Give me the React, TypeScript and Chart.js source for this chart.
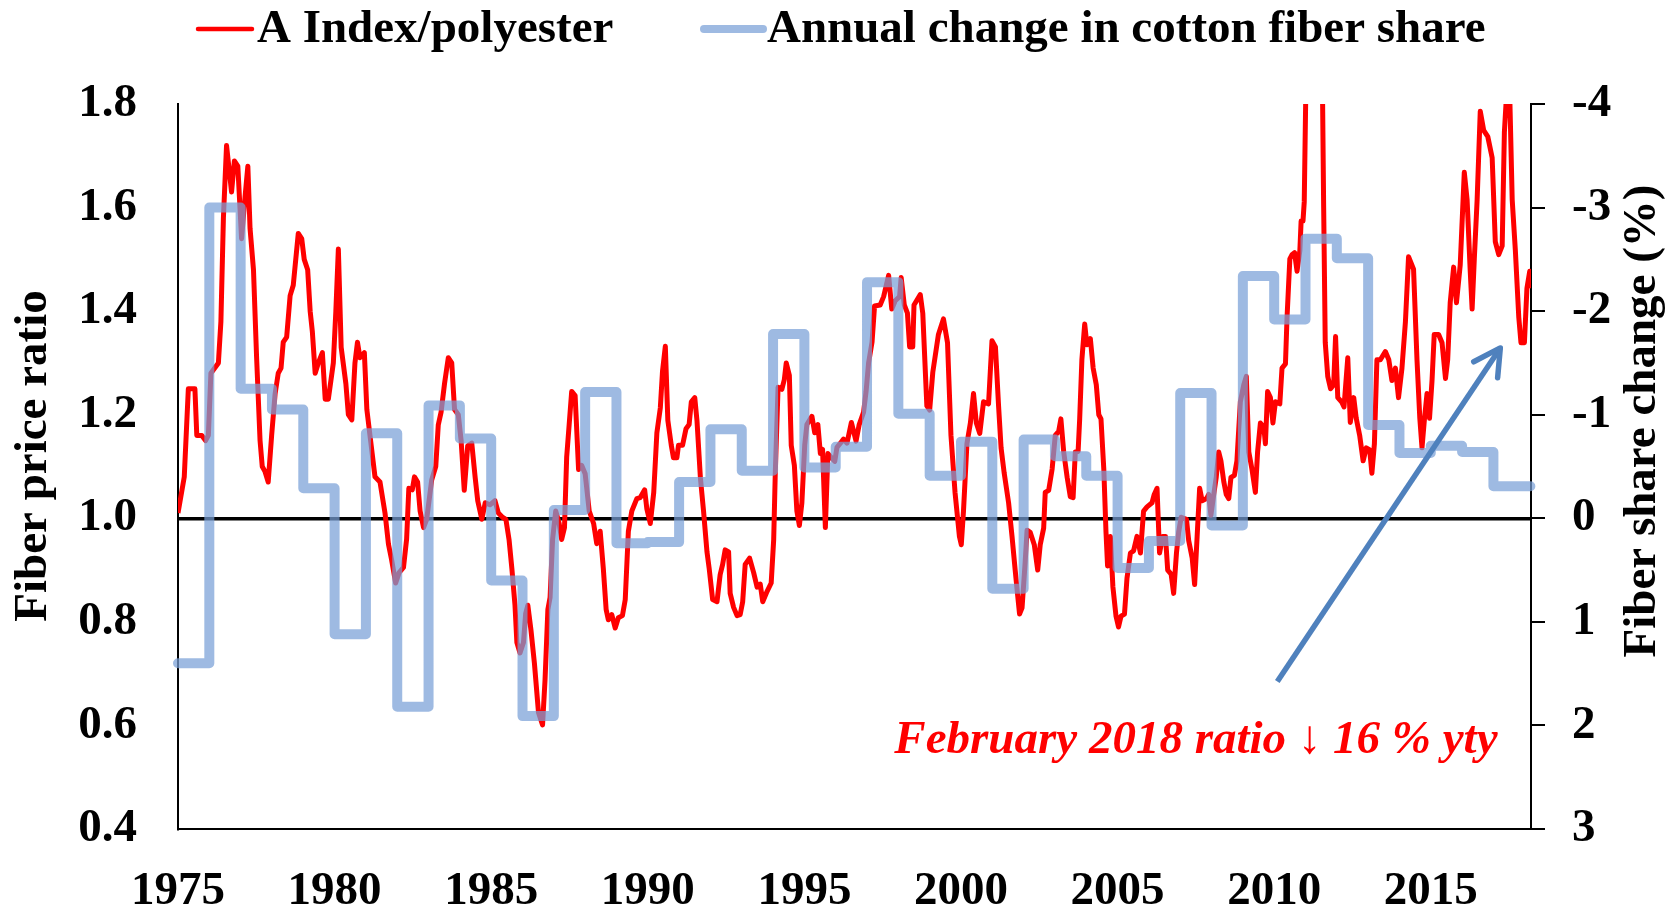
import { useEffect, useRef } from 'react';
import { Chart, registerables } from 'chart.js';

Chart.register(...registerables);

// A Index / polyester price ratio (decimal year / ratio)
const ratioYears = [
  1975.0, 1975.2, 1975.33, 1975.54, 1975.6, 1975.76, 1975.88, 1975.97, 1976.05, 1976.29,
  1976.37, 1976.45, 1976.55, 1976.71, 1976.8, 1976.91, 1977.03, 1977.14, 1977.23, 1977.3,
  1977.41, 1977.51, 1977.62, 1977.69, 1977.78, 1977.88, 1977.99, 1978.1, 1978.2, 1978.29,
  1978.36, 1978.47, 1978.58, 1978.68, 1978.84, 1978.95, 1979.03, 1979.14, 1979.22, 1979.29,
  1979.38, 1979.48, 1979.61, 1979.7, 1979.8, 1979.96, 1980.04, 1980.12, 1980.21, 1980.36,
  1980.44, 1980.55, 1980.65, 1980.73, 1980.81, 1980.95, 1981.03, 1981.13, 1981.29, 1981.45,
  1981.61, 1981.72, 1981.82, 1981.95, 1982.06, 1982.2, 1982.3, 1982.37, 1982.48, 1982.55,
  1982.65, 1982.73, 1982.84, 1982.94, 1983.1, 1983.23, 1983.31, 1983.4, 1983.51, 1983.63,
  1983.74, 1983.83, 1983.95, 1984.04, 1984.14, 1984.25, 1984.38, 1984.49, 1984.57, 1984.7,
  1984.81, 1984.96, 1985.12, 1985.23, 1985.36, 1985.47, 1985.57, 1985.66, 1985.76, 1985.82,
  1985.92, 1986.03, 1986.1, 1986.17, 1986.27, 1986.38, 1986.51, 1986.64, 1986.72, 1986.81,
  1986.88, 1986.96, 1987.06, 1987.17, 1987.25, 1987.34, 1987.41, 1987.49, 1987.57, 1987.68,
  1987.79, 1987.89, 1988.0, 1988.13, 1988.27, 1988.37, 1988.48, 1988.58, 1988.67, 1988.74,
  1988.85, 1988.96, 1989.06, 1989.19, 1989.28, 1989.38, 1989.49, 1989.65, 1989.76, 1989.9,
  1989.97, 1990.08, 1990.19, 1990.29, 1990.4, 1990.47, 1990.56, 1990.64, 1990.75, 1990.82,
  1990.93, 1990.98, 1991.11, 1991.22, 1991.32, 1991.39, 1991.5, 1991.57, 1991.68, 1991.78,
  1991.89, 1991.96, 1992.07, 1992.21, 1992.31, 1992.39, 1992.47, 1992.58, 1992.63, 1992.74,
  1992.85, 1992.95, 1993.03, 1993.11, 1993.25, 1993.38, 1993.49, 1993.59, 1993.67, 1993.81,
  1993.94, 1994.02, 1994.07, 1994.16, 1994.28, 1994.36, 1994.42, 1994.52, 1994.58, 1994.68,
  1994.76, 1994.84, 1994.92, 1995.01, 1995.08, 1995.24, 1995.33, 1995.43, 1995.51, 1995.58,
  1995.67, 1995.75, 1995.86, 1995.97, 1996.04, 1996.15, 1996.25, 1996.36, 1996.5, 1996.65,
  1996.75, 1996.89, 1996.97, 1997.05, 1997.16, 1997.24, 1997.42, 1997.53, 1997.69, 1997.79,
  1997.9, 1998.04, 1998.09, 1998.19, 1998.29, 1998.36, 1998.46, 1998.5, 1998.7, 1998.78,
  1998.91, 1999.0, 1999.1, 1999.28, 1999.44, 1999.57, 1999.68, 1999.81, 1999.95, 2000.01,
  2000.08, 2000.19, 2000.3, 2000.4, 2000.49, 2000.6, 2000.72, 2000.88, 2000.99, 2001.1,
  2001.2, 2001.28, 2001.38, 2001.52, 2001.63, 2001.73, 2001.81, 2001.87, 2001.95, 2002.05,
  2002.11, 2002.21, 2002.34, 2002.45, 2002.53, 2002.64, 2002.69, 2002.8, 2002.91, 2003.01,
  2003.12, 2003.19, 2003.28, 2003.39, 2003.49, 2003.58, 2003.65, 2003.74, 2003.79, 2003.86,
  2003.95, 2004.02, 2004.13, 2004.22, 2004.32, 2004.4, 2004.47, 2004.56, 2004.63, 2004.68,
  2004.77, 2004.85, 2004.95, 2005.03, 2005.11, 2005.22, 2005.3, 2005.41, 2005.51, 2005.62,
  2005.73, 2005.83, 2005.94, 2006.1, 2006.17, 2006.26, 2006.34, 2006.44, 2006.53, 2006.6,
  2006.71, 2006.79, 2006.88, 2006.95, 2007.03, 2007.2, 2007.27, 2007.38, 2007.46, 2007.54,
  2007.62, 2007.7, 2007.84, 2007.91, 2007.98, 2008.07, 2008.15, 2008.23, 2008.3, 2008.39,
  2008.47, 2008.55, 2008.62, 2008.73, 2008.81, 2008.92, 2009.03, 2009.11, 2009.19, 2009.29,
  2009.4, 2009.47, 2009.56, 2009.67, 2009.72, 2009.79, 2009.88, 2009.96, 2010.04, 2010.18,
  2010.25, 2010.36, 2010.41, 2010.5, 2010.57, 2010.65, 2010.73, 2010.82, 2010.86, 2010.92,
  2010.96, 2011.04, 2011.12, 2011.2, 2011.28, 2011.37, 2011.45, 2011.53, 2011.58, 2011.63,
  2011.71, 2011.8, 2011.9, 2011.96, 2012.03, 2012.15, 2012.23, 2012.35, 2012.43, 2012.54,
  2012.62, 2012.73, 2012.84, 2012.94, 2013.05, 2013.12, 2013.2, 2013.28, 2013.39, 2013.55,
  2013.66, 2013.76, 2013.87, 2013.97, 2014.08, 2014.19, 2014.29, 2014.45, 2014.56, 2014.65,
  2014.72, 2014.8, 2014.88, 2014.96, 2015.04, 2015.11, 2015.25, 2015.36, 2015.47, 2015.54,
  2015.62, 2015.73, 2015.82, 2015.94, 2016.07, 2016.16, 2016.26, 2016.32, 2016.39, 2016.48,
  2016.58, 2016.69, 2016.82, 2016.96, 2017.06, 2017.17, 2017.28, 2017.35, 2017.43, 2017.52,
  2017.6, 2017.7, 2017.81, 2017.88, 2017.99, 2018.07, 2018.16, 2018.2,
];
const ratioValues = [
  1.01, 1.08, 1.25, 1.25, 1.16, 1.16, 1.15, 1.16, 1.28, 1.30,
  1.38, 1.58, 1.72, 1.63, 1.69, 1.68, 1.54, 1.62, 1.68, 1.56,
  1.48, 1.31, 1.15, 1.10, 1.09, 1.07, 1.16, 1.24, 1.28, 1.29,
  1.34, 1.35, 1.43, 1.45, 1.55, 1.54, 1.50, 1.48, 1.40, 1.36,
  1.28, 1.30, 1.32, 1.23, 1.23, 1.30, 1.40, 1.52, 1.33, 1.26,
  1.20, 1.19, 1.30, 1.34, 1.31, 1.32, 1.21, 1.16, 1.08, 1.07,
  1.01, 0.95, 0.92, 0.875, 0.895, 0.905, 0.96, 1.058, 1.055, 1.08,
  1.07, 1.014, 0.982, 0.998, 1.074, 1.10, 1.18, 1.205, 1.26, 1.31,
  1.30, 1.21, 1.20, 1.15, 1.054, 1.14, 1.145, 1.078, 1.034, 0.998,
  1.03, 1.026, 1.034, 1.01, 1.002, 0.998, 0.959, 0.903, 0.832, 0.76,
  0.74, 0.76, 0.816, 0.832, 0.784, 0.72, 0.625, 0.601, 0.689, 0.824,
  0.847, 0.959, 1.014, 0.99, 0.959, 0.982, 1.118, 1.181, 1.245, 1.237,
  1.094, 1.102, 1.086, 1.014, 0.99, 0.951, 0.975, 0.903, 0.824, 0.804,
  0.814, 0.788, 0.808, 0.812, 0.843, 0.975, 1.014, 1.038, 1.04, 1.055,
  1.018, 0.99, 1.05, 1.165, 1.213, 1.284, 1.332, 1.189, 1.141, 1.117,
  1.117, 1.141, 1.141, 1.173, 1.181, 1.225, 1.233, 1.189, 1.078, 1.014,
  0.935, 0.903, 0.843, 0.839, 0.891, 0.911, 0.939, 0.935, 0.855, 0.828,
  0.812, 0.814, 0.839, 0.911, 0.923, 0.895, 0.867, 0.873, 0.839, 0.859,
  0.875, 0.959, 1.086, 1.253, 1.249, 1.268, 1.30, 1.276, 1.141, 1.102,
  1.014, 0.986, 1.03, 1.141, 1.181, 1.197, 1.165, 1.181, 1.125, 1.133,
  0.982, 1.125, 1.117, 1.11, 1.137, 1.145, 1.153, 1.145, 1.185, 1.149,
  1.181, 1.205, 1.245, 1.30, 1.34, 1.41, 1.412, 1.428, 1.469, 1.404,
  1.42, 1.428, 1.465, 1.412, 1.396, 1.331, 1.331, 1.412, 1.432, 1.396,
  1.217, 1.209, 1.282, 1.355, 1.385, 1.339, 1.16, 1.05, 0.965, 0.949,
  1.014, 1.144, 1.184, 1.241, 1.184, 1.164, 1.225, 1.221, 1.343, 1.331,
  1.217, 1.136, 1.087, 1.03, 0.965, 0.90, 0.851, 0.815, 0.827, 0.916,
  0.977, 0.973, 0.949, 0.90, 0.949, 0.981, 1.05, 1.054, 1.095, 1.16,
  1.168, 1.192, 1.128, 1.079, 1.042, 1.04, 1.128, 1.129, 1.192, 1.306,
  1.375, 1.335, 1.347, 1.29, 1.258, 1.20, 1.192, 1.095, 0.973, 0.908,
  0.965, 0.868, 0.811, 0.79, 0.811, 0.815, 0.884, 0.933, 0.937, 0.965,
  0.933, 1.014, 1.022, 1.03, 1.046, 1.058, 0.933, 0.965, 0.965, 0.90,
  0.892, 0.855, 0.933, 0.973, 1.002, 0.998, 0.957, 0.924, 0.872, 0.965,
  1.058, 1.034, 1.038, 1.046, 1.006, 1.046, 1.079, 1.128, 1.111, 1.071,
  1.046, 1.038, 1.079, 1.083, 1.111, 1.225, 1.258, 1.274, 1.128, 1.095,
  1.05, 1.128, 1.184, 1.176, 1.144, 1.245, 1.233, 1.184, 1.225, 1.221,
  1.29, 1.298, 1.387, 1.501, 1.509, 1.513, 1.477, 1.517, 1.574, 1.574,
  1.611, 1.95, 2.2, 2.4, 2.35, 2.2, 2.05, 1.9, 1.6, 1.34,
  1.274, 1.25, 1.258, 1.351, 1.233, 1.225, 1.215, 1.31, 1.185, 1.233,
  1.193, 1.16, 1.111, 1.136, 1.132, 1.087, 1.144, 1.306, 1.306, 1.322,
  1.306, 1.266, 1.29, 1.233, 1.29, 1.379, 1.505, 1.481, 1.306, 1.193,
  1.136, 1.193, 1.241, 1.193, 1.266, 1.355, 1.355, 1.339, 1.27, 1.306,
  1.416, 1.485, 1.416, 1.489, 1.668, 1.615, 1.477, 1.404, 1.501, 1.615,
  1.786, 1.749, 1.737, 1.696, 1.534, 1.509, 1.526, 1.745, 1.83, 1.82,
  1.615, 1.518, 1.388, 1.339, 1.339, 1.444, 1.477, 1.444,
];

// Annual change in cotton fiber share (%), one value per year, held through the year
const shareYears = [
  1975, 1976, 1977, 1978, 1979, 1980, 1981, 1982, 1983, 1984,
  1985, 1986, 1987, 1988, 1989, 1990, 1991, 1992, 1993, 1994,
  1995, 1996, 1997, 1998, 1999, 2000, 2001, 2002, 2003, 2004,
  2005, 2006, 2007, 2008, 2009, 2010, 2011, 2012, 2013, 2014,
  2015, 2016, 2017, 2018.18,
];
const shareValues = [
  1.40, -3.0, -1.25, -1.05, -0.29, 1.12, -0.82, 1.82, -1.09, -0.77,
  0.60, 1.91, -0.08, -1.22, 0.24, 0.23, -0.35, -0.86, -0.46, -1.78,
  -0.49, -0.69, -2.28, -1.01, -0.41, -0.74, 0.68, -0.76, -0.60, -0.41,
  0.48, 0.22, -1.21, 0.07, -2.34, -1.92, -2.70, -2.51, -0.90, -0.63,
  -0.70, -0.64, -0.31, -0.31,
];

const seriesLabels = ['A Index/polyester', 'Annual change in cotton fiber share'];
const leftTitle = 'Fiber price ratio';
const rightTitle = 'Fiber share change (%)';
const noteText = 'February 2018 ratio \u2193 16 % yty';
const notePoint = [2017.13, 0.57];
const arrowFrom = [2010.1, 0.685];
const arrowTo = [2017.22, 1.329];

const FONT_FAMILY = '"Liberation Serif", "Times New Roman", serif';
const RED = '#FF0000';
const BLUE = 'rgba(120,160,215,0.72)';
const ARROW_BLUE = '#4F81BD';

const overlayPlugin = {
  id: 'overlay',
  afterDraw(chart: any) {
    const { ctx, scales } = chart;
    const x = scales.x;
    const y = scales.y;
    ctx.save();

    // arrow
    const x1 = x.getPixelForValue(arrowFrom[0]);
    const y1 = y.getPixelForValue(arrowFrom[1]);
    const x2 = x.getPixelForValue(arrowTo[0]);
    const y2 = y.getPixelForValue(arrowTo[1]);
    ctx.strokeStyle = ARROW_BLUE;
    ctx.lineWidth = 5.5;
    ctx.lineCap = 'butt';
    ctx.beginPath();
    ctx.moveTo(x1, y1);
    ctx.lineTo(x2, y2);
    ctx.stroke();
    const ang = Math.atan2(y2 - y1, x2 - x1);
    const hl = 30;
    const spread = 0.5;
    ctx.lineCap = 'round';
    ctx.lineJoin = 'round';
    ctx.beginPath();
    ctx.moveTo(x2 - hl * Math.cos(ang - spread), y2 - hl * Math.sin(ang - spread));
    ctx.lineTo(x2, y2);
    ctx.lineTo(x2 - hl * Math.cos(ang + spread), y2 - hl * Math.sin(ang + spread));
    ctx.stroke();

    // annotation text
    ctx.fillStyle = RED;
    ctx.font = `italic bold 47px ${FONT_FAMILY}`;
    ctx.textAlign = 'right';
    ctx.textBaseline = 'middle';
    ctx.fillText(noteText, x.getPixelForValue(notePoint[0]), y.getPixelForValue(notePoint[1]));

    // axis titles
    ctx.fillStyle = '#000';
    ctx.font = `bold 47px ${FONT_FAMILY}`;
    ctx.textAlign = 'center';
    ctx.textBaseline = 'middle';
    ctx.save();
    ctx.translate(34, 456);
    ctx.rotate(-Math.PI / 2);
    ctx.fillText(leftTitle, 0, 0);
    ctx.restore();
    ctx.save();
    ctx.translate(1643, 421);
    ctx.rotate(-Math.PI / 2);
    ctx.fillText(rightTitle, 0, 0);
    ctx.restore();

    // legend
    const ds = chart.data.datasets;
    const legendY = 29;
    const items = [
      { x0: 198, x1: 252, tx: 257, lw: 4.5 },
      { x0: 704, x1: 763, tx: 767, lw: 8 },
    ];
    items.forEach((it, i) => {
      ctx.strokeStyle = ds[i].borderColor;
      ctx.lineWidth = it.lw;
      ctx.lineCap = 'round';
      ctx.beginPath();
      ctx.moveTo(it.x0, legendY);
      ctx.lineTo(it.x1, legendY);
      ctx.stroke();
      ctx.fillStyle = '#000';
      ctx.textAlign = 'left';
      ctx.fillText(seriesLabels[i], it.tx, legendY + 1);
    });

    ctx.restore();
  },
};

export default function App() {
  const canvasRef = useRef<HTMLCanvasElement | null>(null);

  useEffect(() => {
    document.body.style.margin = '0';
    const canvas = canvasRef.current;
    if (!canvas) return;
    const tickFont = { family: FONT_FAMILY, size: 47, weight: 'bold' as const };
    const chart = new Chart(canvas, {
      type: 'line',
      data: {
        datasets: [
          {
            label: seriesLabels[0],
            data: ratioYears.map((yr, i) => ({ x: yr, y: ratioValues[i] })),
            borderColor: RED,
            borderWidth: 5,
            pointRadius: 0,
            tension: 0,
            yAxisID: 'y',
            order: 1,
            clip: 0,
            borderJoinStyle: 'round',
          },
          {
            label: seriesLabels[1],
            data: shareYears.map((yr, i) => ({ x: yr, y: shareValues[i] })),
            borderColor: BLUE,
            borderWidth: 10,
            pointRadius: 0,
            stepped: true,
            yAxisID: 'y2',
            order: 0,
            clip: 6,
            borderCapStyle: 'round',
            borderJoinStyle: 'round',
          },
        ],
      } as any,
      options: {
        responsive: false,
        animation: false,
        devicePixelRatio: 1,
        layout: { padding: { top: 104, left: 0, right: 0, bottom: 0 } },
        plugins: {
          legend: { display: false },
          tooltip: { enabled: false },
        },
        scales: {
          x: {
            type: 'linear',
            min: 1975,
            max: 2018.2,
            afterFit: (s: any) => { s.height = 79; },
            grid: { display: false },
            border: { display: true, color: '#000', width: 2 },
            ticks: {
              stepSize: 5,
              includeBounds: false,
              autoSkip: false,
              maxRotation: 0,
              padding: 27,
              color: '#000',
              font: tickFont,
              callback: (v: any) => String(v),
            },
          },
          y: {
            type: 'linear',
            position: 'left',
            min: 0.4,
            max: 1.8,
            afterFit: (s: any) => { s.width = 178; },
            grid: {
              drawOnChartArea: true,
              drawTicks: false,
              color: (c: any) => (c.tick && Math.abs(c.tick.value - 1) < 1e-6 ? '#000' : 'rgba(0,0,0,0)'),
              lineWidth: 3.5,
            },
            border: { display: true, color: '#000', width: 2 },
            ticks: {
              stepSize: 0.2,
              padding: 41,
              color: '#000',
              font: tickFont,
              callback: (v: any) => Number(v).toFixed(1),
            },
          },
          y2: {
            type: 'linear',
            position: 'right',
            min: -4,
            max: 3,
            reverse: true,
            afterFit: (s: any) => { s.width = 148; },
            grid: {
              drawOnChartArea: false,
              drawTicks: true,
              tickLength: 14,
              color: '#000',
              lineWidth: 2,
            },
            border: { display: true, color: '#000', width: 2 },
            ticks: {
              stepSize: 1,
              padding: 27,
              color: '#000',
              font: tickFont,
              callback: (v: any) => String(Math.round(Number(v))),
            },
          },
        },
      } as any,
      plugins: [overlayPlugin],
    });
    return () => chart.destroy();
  }, []);

  return (
    <div style={{ position: 'fixed', left: 0, top: 0, width: 1679, height: 908, background: '#fff' }}>
      <canvas ref={canvasRef} width={1679} height={908} style={{ display: 'block', width: 1679, height: 908 }} />
    </div>
  );
}
